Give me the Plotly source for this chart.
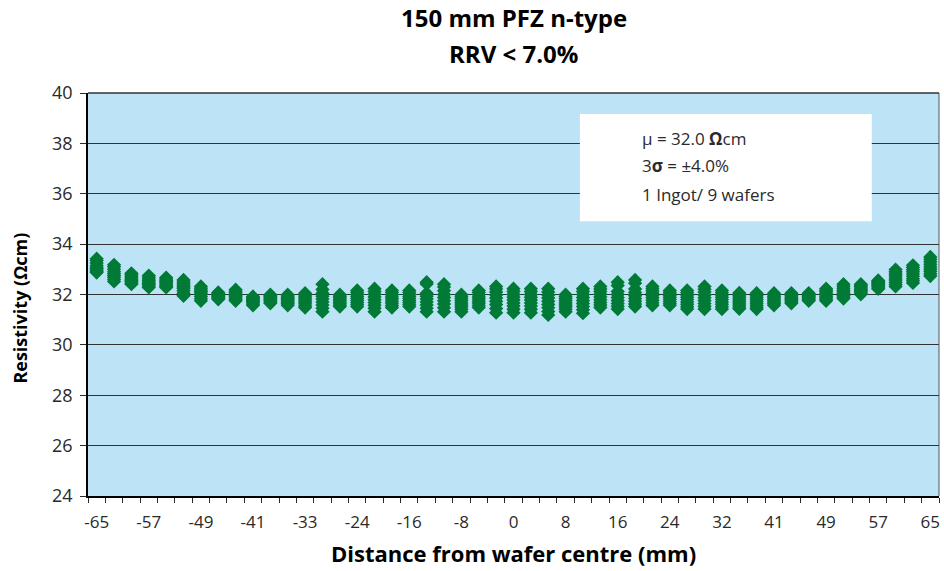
import plotly.graph_objects as go

# Category labels (49 measurement positions, every third one labelled)
positions = list(range(49))
label_idx = [0, 3, 6, 9, 12, 15, 18, 21, 24, 27, 30, 33, 36, 39, 42, 45, 48]
label_text = ["-65", "-57", "-49", "-41", "-33", "-24", "-16", "-8", "0",
              "8", "16", "24", "32", "41", "49", "57", "65"]

# Resistivity (Ohm cm) for 9 wafers, 49 positions each
w1 = [33.42, 33.18, 32.84, 32.75, 32.67, 32.58, 32.32, 32.08, 32.19, 31.92, 31.99, 31.99, 32.05, 32.41, 31.99, 32.16, 32.23, 32.16, 32.16, 32.49, 32.41, 31.99, 32.16, 32.32, 32.23, 32.23, 32.23, 31.99, 32.23, 32.32, 32.49, 32.58, 32.32, 32.16, 32.16, 32.32, 32.16, 32.06, 32.05, 32.05, 32.05, 32.05, 32.23, 32.41, 32.41, 32.56, 32.99, 33.16, 33.49]
w2 = [33.35, 33.10, 32.78, 32.68, 32.62, 32.50, 32.25, 32.04, 32.13, 31.88, 31.95, 31.94, 31.98, 32.20, 31.93, 32.08, 32.12, 32.08, 32.08, 32.42, 32.30, 31.91, 32.08, 32.22, 32.12, 32.12, 32.10, 31.91, 32.12, 32.22, 32.36, 32.45, 32.23, 32.09, 32.07, 32.21, 32.07, 31.98, 31.97, 31.99, 32.00, 32.01, 32.17, 32.33, 32.36, 32.52, 32.90, 33.07, 33.40]
w3 = [33.25, 33.00, 32.72, 32.62, 32.57, 32.43, 32.18, 32.00, 32.07, 31.84, 31.91, 31.89, 31.91, 32.05, 31.87, 32.00, 32.01, 31.99, 32.00, 32.05, 32.15, 31.83, 31.99, 32.10, 32.00, 32.00, 31.98, 31.83, 32.00, 32.12, 32.12, 32.22, 32.14, 32.02, 31.98, 32.10, 31.98, 31.90, 31.89, 31.93, 31.95, 31.97, 32.11, 32.25, 32.31, 32.48, 32.82, 32.98, 33.30]
w4 = [33.15, 32.90, 32.66, 32.56, 32.52, 32.36, 32.12, 31.97, 32.01, 31.80, 31.87, 31.84, 31.84, 31.93, 31.81, 31.92, 31.90, 31.90, 31.92, 31.93, 32.00, 31.75, 31.90, 31.98, 31.89, 31.89, 31.86, 31.75, 31.88, 32.01, 32.00, 32.08, 32.05, 31.95, 31.89, 31.98, 31.89, 31.82, 31.81, 31.87, 31.90, 31.93, 32.05, 32.17, 32.26, 32.44, 32.74, 32.90, 33.20]
w5 = [33.08, 32.82, 32.61, 32.50, 32.47, 32.30, 32.06, 31.94, 31.96, 31.76, 31.83, 31.79, 31.77, 31.82, 31.75, 31.84, 31.79, 31.82, 31.84, 31.82, 31.88, 31.66, 31.82, 31.86, 31.78, 31.78, 31.73, 31.66, 31.76, 31.90, 31.88, 31.95, 31.96, 31.88, 31.80, 31.87, 31.80, 31.74, 31.73, 31.81, 31.85, 31.90, 31.99, 32.10, 32.21, 32.40, 32.66, 32.81, 33.10]
w6 = [33.02, 32.75, 32.56, 32.45, 32.42, 32.24, 32.00, 31.91, 31.91, 31.72, 31.79, 31.74, 31.70, 31.70, 31.69, 31.76, 31.68, 31.73, 31.76, 31.70, 31.75, 31.58, 31.73, 31.73, 31.66, 31.66, 31.60, 31.58, 31.64, 31.79, 31.76, 31.84, 31.87, 31.80, 31.70, 31.76, 31.70, 31.66, 31.65, 31.75, 31.80, 31.86, 31.93, 32.03, 32.16, 32.36, 32.58, 32.72, 33.01]
w7 = [32.97, 32.68, 32.51, 32.40, 32.37, 32.15, 31.92, 31.88, 31.86, 31.68, 31.75, 31.69, 31.63, 31.58, 31.63, 31.68, 31.57, 31.65, 31.68, 31.58, 31.62, 31.50, 31.65, 31.60, 31.54, 31.54, 31.47, 31.50, 31.52, 31.68, 31.64, 31.73, 31.77, 31.72, 31.61, 31.64, 31.61, 31.58, 31.57, 31.69, 31.75, 31.82, 31.87, 31.96, 32.11, 32.31, 32.49, 32.63, 32.92]
w8 = [32.92, 32.60, 32.46, 32.34, 32.33, 32.05, 31.83, 31.85, 31.80, 31.62, 31.70, 31.63, 31.55, 31.45, 31.57, 31.60, 31.45, 31.56, 31.60, 31.45, 31.47, 31.41, 31.56, 31.44, 31.41, 31.41, 31.33, 31.41, 31.39, 31.58, 31.53, 31.62, 31.67, 31.64, 31.51, 31.53, 31.51, 31.50, 31.49, 31.63, 31.70, 31.78, 31.81, 31.90, 32.06, 32.26, 32.40, 32.55, 32.82]
w9 = [32.87, 32.52, 32.41, 32.28, 32.28, 31.95, 31.75, 31.81, 31.75, 31.57, 31.65, 31.57, 31.48, 31.32, 31.52, 31.52, 31.32, 31.48, 31.52, 31.32, 31.32, 31.32, 31.48, 31.28, 31.28, 31.28, 31.19, 31.32, 31.26, 31.48, 31.42, 31.52, 31.57, 31.57, 31.42, 31.42, 31.42, 31.43, 31.42, 31.57, 31.65, 31.75, 31.75, 31.84, 32.01, 32.22, 32.32, 32.46, 32.73]
wafers = [w1, w2, w3, w4, w5, w6, w7, w8, w9]

y_ticks = [24, 26, 28, 30, 32, 34, 36, 38, 40]

GREEN = "#007A36"
FONT = "Open Sans"
TICKCOL = "#2a2a2a"

fig = go.Figure()
for i, w in enumerate(wafers):
    fig.add_trace(go.Scatter(
        x=positions[:len(w)], y=w, mode="markers", name=f"Wafer {i+1}",
        marker=dict(symbol="diamond", size=11, color=GREEN, line=dict(width=0)),
        showlegend=False, hoverinfo="x+y"))

fig.update_layout(
    width=944, height=571,
    margin=dict(l=88, r=5, t=93, b=75),
    paper_bgcolor="white",
    plot_bgcolor="#BCE4F6",
    font=dict(family=FONT, color=TICKCOL, size=15),
    xaxis=dict(
        range=[-0.5, 48.5], tickmode="array", tickvals=label_idx, ticktext=label_text,
        ticks="", showgrid=False, zeroline=False,
        showline=True, linecolor="black", linewidth=2,
        ticklabelstandoff=10,
        tickfont=dict(family=FONT, size=17, color=TICKCOL),
        minor=dict(tickmode="linear", tick0=-0.5, dtick=1, ticks="outside",
                   ticklen=5, tickwidth=1, tickcolor=TICKCOL, showgrid=False),
    ),
    yaxis=dict(
        range=[24, 40], tickmode="array", tickvals=y_ticks,
        ticks="outside", ticklen=6, tickwidth=1, tickcolor=TICKCOL,
        showgrid=True, gridcolor="#333333", gridwidth=1, zeroline=False,
        showline=True, linecolor="black", linewidth=1.5,
        ticklabelstandoff=4,
        tickfont=dict(family=FONT, size=18, color=TICKCOL),
    ),
)

# right border of plot area
fig.add_shape(type="line", xref="paper", yref="paper", x0=1, x1=1, y0=0, y1=1,
              line=dict(color="#555555", width=1), layer="above")
# top border
fig.add_shape(type="line", xref="paper", yref="paper", x0=0, x1=1, y0=1, y1=1,
              line=dict(color="#333333", width=1.5), layer="above")

# statistics box
fig.add_shape(type="rect", xref="paper", yref="paper", x0=0.578, x1=0.921,
              y0=0.682, y1=0.948, fillcolor="white", line=dict(width=0), layer="above")
for txt, yy in [("μ = 32.0 <b>Ω</b>cm", 0.886), ("3<b>σ</b> = ±4.0%", 0.819),
                ("1 Ingot/ 9 wafers", 0.749)]:
    fig.add_annotation(text=txt, xref="paper", yref="paper", x=0.6486, y=yy,
                       xanchor="left", yanchor="middle", showarrow=False,
                       font=dict(family=FONT, size=17, color=TICKCOL))

# titles
fig.add_annotation(text="<b>150 mm PFZ n-type</b>", xref="paper", yref="paper",
                   x=0.5, y=1.187, xanchor="center", yanchor="middle", showarrow=False,
                   font=dict(family=FONT, size=24, color="black"))
fig.add_annotation(text="<b>RRV < 7.0%</b>", xref="paper", yref="paper",
                   x=0.5, y=1.0968, xanchor="center", yanchor="middle", showarrow=False,
                   font=dict(family=FONT, size=24, color="black"))
fig.add_annotation(text="<b>Distance from wafer centre (mm)</b>", xref="paper", yref="paper",
                   x=0.5, y=-0.1414, xanchor="center", yanchor="middle", showarrow=False,
                   font=dict(family=FONT, size=22, color="black"))
fig.add_annotation(text="<b>Resistivity (Ωcm)</b>", xref="paper", yref="paper",
                   x=-0.0799, y=0.465, xanchor="center", yanchor="middle", showarrow=False,
                   textangle=-90, font=dict(family=FONT, size=18, color="black"))

fig.write_html("out.html")
